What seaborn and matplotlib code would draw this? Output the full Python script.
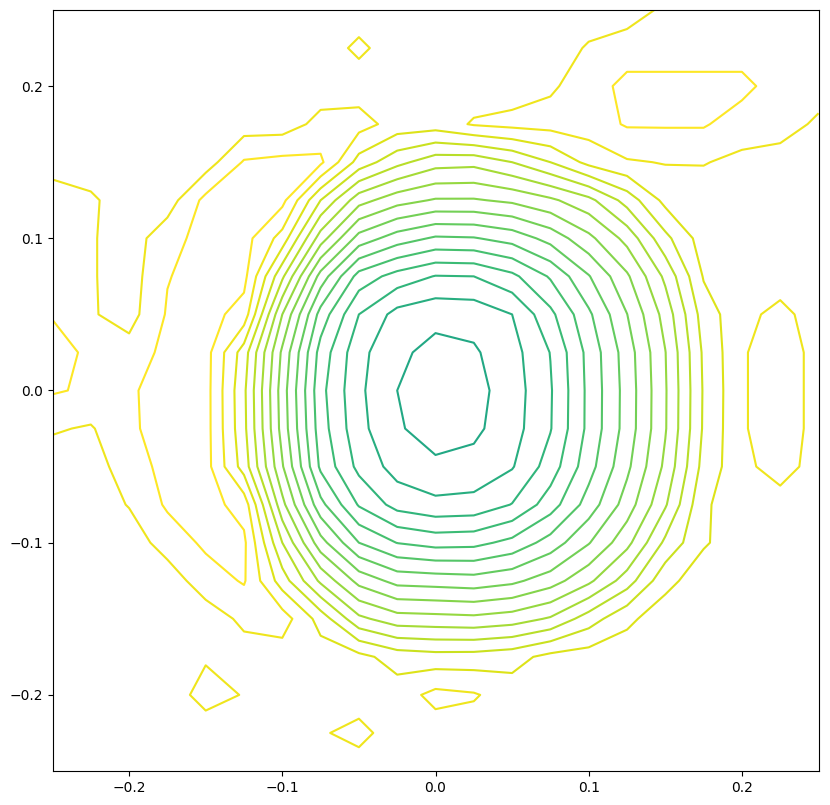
import numpy as np
import matplotlib
matplotlib.use("Agg")
import matplotlib.pyplot as plt
import seaborn as sns

# grid coordinates of the sampled surface
x_vals = [-0.25, -0.225, -0.2, -0.175, -0.15, -0.125, -0.1, -0.075, -0.05, -0.025, 0.0,
          0.025, 0.05, 0.075, 0.1, 0.125, 0.15, 0.175, 0.2, 0.225, 0.25]
y_vals = [-0.25, -0.225, -0.2, -0.175, -0.15, -0.125, -0.1, -0.075, -0.05, -0.025, 0.0,
          0.025, 0.05, 0.075, 0.1, 0.125, 0.15, 0.175, 0.2, 0.225, 0.25]

# surface values, first row is the top of the plot (y = 0.25)
surface_rows = [
    [14.5, 14.5, 14.5, 14.5, 14.5, 14.5, 14.5, 14.5, 14.5, 14.5, 14.5, 14.5, 14.5, 14.5, 14.5, 14.5, 15.2, 15.5, 15.5, 15.5, 15.5],
    [14.5, 14.5, 14.5, 14.5, 14.5, 14.5, 14.5, 14.5, 15.2, 14.5, 14.5, 14.5, 14.5, 14.5, 15.1, 15.5, 15.5, 15.5, 15.5, 15.5, 15.5],
    [14.5, 14.5, 14.5, 14.5, 14.5, 14.5, 14.5, 14.5, 14.5, 14.5, 14.5, 14.5, 14.5, 14.85, 15.5, 16.3, 16.3, 16.3, 16.3, 15.5, 15.5],
    [14.5, 14.5, 14.5, 14.5, 14.5, 14.5, 14.5, 15.3, 15.4, 14.6, 14.5, 15.1, 15.3, 15.4, 15.5, 16.1, 16.1, 16.1, 15.5, 15.5, 14.8],
    [14.5, 14.5, 14.5, 14.5, 14.5, 16.1, 16.3, 16.2, 13.6, 12.3, 11.4, 11.3, 12.0, 13.0, 14.3, 14.9, 15.05, 15.05, 14.76, 14.5, 14.5],
    [15.6, 15.15, 14.5, 14.5, 16.3, 16.4, 16.3, 13.0, 10.4, 9.4, 8.9, 8.9, 9.2, 9.8, 10.7, 12.4, 14.3, 14.5, 14.5, 14.5, 14.5],
    [15.6, 15.1, 14.5, 15.6, 16.4, 16.4, 14.6, 10.5, 7.6, 6.5, 5.86, 5.93, 6.39, 7.36, 8.73, 10.33, 12.72, 14.5, 14.5, 14.5, 14.5],
    [15.6, 15.1, 14.5, 15.95, 16.4, 16.3, 12.2, 7.6, 4.6, 3.6, 2.95, 3.0, 3.75, 5.12, 6.93, 8.84, 11.22, 14.08, 14.5, 14.5, 14.5],
    [15.95, 15.1, 14.6, 16.1, 16.4, 15.6, 10.0, 5.6, 3.0, 1.65, 1.3, 1.38, 2.0, 3.74, 5.81, 7.98, 10.38, 13.47, 14.7, 15.3, 14.5],
    [16.3, 15.85, 15.4, 16.3, 16.4, 13.5, 8.8, 4.6, 2.3, 1.21, 0.69, 0.87, 1.62, 3.03, 5.31, 7.49, 9.97, 13.17, 14.85, 15.8, 14.5],
    [16.1, 15.85, 15.87, 16.4, 16.4, 13.2, 8.5, 4.3, 2.2, 1.0, 0.15, 0.65, 1.5, 2.9, 5.25, 7.4, 9.9, 13.1, 14.85, 15.8, 14.5],
    [15.1, 14.9, 15.84, 16.4, 16.4, 13.26, 8.6, 4.46, 2.3, 1.13, 0.5, 0.78, 1.58, 2.94, 5.26, 7.42, 9.92, 13.13, 14.85, 15.8, 14.5],
    [14.5, 14.5, 15.55, 16.3, 16.4, 13.55, 9.1, 4.8, 2.72, 1.59, 1.22, 1.33, 1.92, 3.46, 5.6, 7.77, 10.22, 13.36, 14.7, 15.5, 14.5],
    [14.5, 14.5, 15.05, 16.15, 16.4, 15.6, 10.3, 6.3, 3.9, 2.63, 2.24, 2.33, 3.04, 4.52, 6.44, 8.46, 10.88, 13.87, 14.5, 14.5, 14.5],
    [14.5, 14.5, 14.5, 15.4, 16.2, 16.2, 12.0, 8.4, 6.0, 4.97, 4.63, 4.7, 5.29, 6.42, 7.93, 9.69, 12.22, 13.9, 14.5, 14.5, 14.5],
    [14.5, 14.5, 14.5, 14.5, 15.5, 16.1, 13.5, 10.8, 8.66, 7.66, 7.55, 7.43, 7.76, 8.53, 9.77, 11.5, 13.72, 14.5, 14.5, 14.5, 14.5],
    [14.5, 14.5, 14.5, 14.5, 14.5, 15.2, 15.5, 13.6, 11.24, 10.43, 10.35, 10.26, 10.51, 11.12, 12.5, 13.8, 14.5, 14.5, 14.5, 14.5, 14.5],
    [14.5, 14.5, 14.5, 14.5, 14.9, 14.6, 14.5, 14.5, 14.3, 13.56, 13.38, 13.41, 13.63, 14.3, 14.5, 14.5, 14.5, 14.5, 14.5, 14.5, 14.5],
    [14.5, 14.5, 14.5, 14.5, 15.35, 14.95, 14.5, 14.5, 14.5, 14.5, 15.3, 15.1, 14.5, 14.5, 14.5, 14.5, 14.5, 14.5, 14.5, 14.5, 14.5],
    [14.5, 14.5, 14.5, 14.5, 14.5, 14.5, 14.5, 14.9, 15.3, 14.5, 14.5, 14.5, 14.5, 14.5, 14.5, 14.5, 14.5, 14.5, 14.5, 14.5, 14.5],
    [14.5, 14.5, 14.5, 14.5, 14.5, 14.5, 14.5, 14.5, 14.5, 14.5, 14.5, 14.5, 14.5, 14.5, 14.5, 14.5, 14.5, 14.5, 14.5, 14.5, 14.5],
]

contour_levels = [1, 2, 3, 4, 5, 6, 7, 8, 9, 10, 11, 12, 13, 14, 15, 16]
x_ticks = [-0.2, -0.1, 0.0, 0.1, 0.2]
y_ticks = [-0.2, -0.1, 0.0, 0.1, 0.2]

sns.set_style("ticks")
plt.rcParams["font.family"] = ["DejaVu Sans"]

Z = np.array(surface_rows)[::-1]
X, Y = np.meshgrid(x_vals, y_vals)

fig = plt.figure(figsize=(8.3, 8.05), dpi=100)
ax = fig.add_axes([52.5 / 830, 34 / 805, 766 / 830, 761 / 805])

cmap = sns.color_palette("viridis", as_cmap=True)
norm = plt.Normalize(vmin=-21.5, vmax=16)
ax.contour(X, Y, Z, levels=contour_levels, cmap=cmap, norm=norm, linewidths=1.5)

ax.set_xlim(-0.25, 0.25)
ax.set_ylim(-0.25, 0.25)
ax.set_xticks(x_ticks)
ax.set_yticks(y_ticks)
for s in ax.spines.values():
    s.set_color("black")
    s.set_linewidth(0.8)
ax.tick_params(colors="black", labelsize=10, length=3.5, width=0.8)

fig.savefig("out.png", dpi=100)
